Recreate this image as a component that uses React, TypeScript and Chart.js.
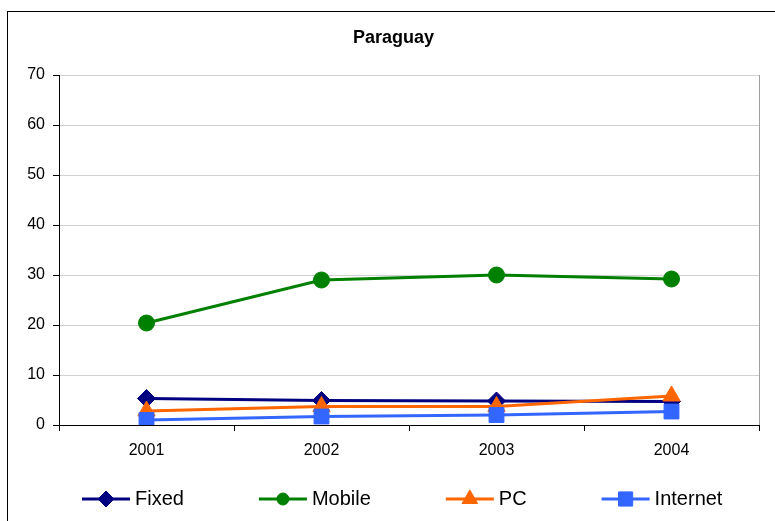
import React, { useEffect, useRef } from 'react';
import { Chart, registerables } from 'chart.js';
import { drawPoint } from 'chart.js/helpers';

Chart.register(...registerables);

const TITLE = 'Paraguay';
const YEARS = ['2001', '2002', '2003', '2004'];
const FIXED = [5.3, 4.9, 4.8, 4.7];
const MOBILE = [20.4, 29.0, 30.0, 29.2];
const PC = [2.8, 3.7, 3.7, 5.8];
const INTERNET = [1.0, 1.7, 2.0, 2.7];
const Y_MIN = 0;
const Y_MAX = 70;
const Y_STEP = 10;

const FONT = 'Arial, "Liberation Sans", sans-serif';

const framePlugin = {
  id: 'frame',
  beforeDraw(chart: any) {
    const ctx = chart.ctx;
    ctx.save();
    ctx.fillStyle = '#ffffff';
    ctx.fillRect(0, 0, chart.width, chart.height);
    ctx.strokeStyle = '#000000';
    ctx.lineWidth = 1;
    ctx.strokeRect(7.5, 11.5, chart.width + 20, chart.height + 20);
    ctx.fillStyle = '#000000';
    ctx.font = `bold 18px ${FONT}`;
    ctx.textAlign = 'center';
    ctx.textBaseline = 'alphabetic';
    ctx.fillText(TITLE, 393.5, 43);
    ctx.restore();
  },
  beforeDatasetsDraw(chart: any) {
    const { ctx, chartArea } = chart;
    ctx.save();
    ctx.strokeStyle = '#a0a0a0';
    ctx.lineWidth = 1;
    ctx.beginPath();
    ctx.moveTo(Math.round(chartArea.right) + 0.5, chartArea.top);
    ctx.lineTo(Math.round(chartArea.right) + 0.5, chartArea.bottom);
    ctx.stroke();
    ctx.restore();
  },
  afterDraw(chart: any) {
    const ctx = chart.ctx;
    ctx.save();
    ctx.font = `20px ${FONT}`;
    ctx.textBaseline = 'middle';
    ctx.textAlign = 'left';
    let x = 82;
    const y = 499;
    const legendRadius: Record<string, number> = { rectRot: 8, circle: 6, triangle: 9, rect: 10 };
    chart.data.datasets.forEach((ds: any) => {
      ctx.strokeStyle = ds.borderColor;
      ctx.lineWidth = 3;
      ctx.beginPath();
      ctx.moveTo(x, y);
      ctx.lineTo(x + 48, y);
      ctx.stroke();
      ctx.fillStyle = ds.borderColor;
      ctx.strokeStyle = ds.borderColor;
      ctx.lineWidth = 1;
      drawPoint(ctx, { pointStyle: ds.pointStyle, rotation: 0, radius: legendRadius[ds.pointStyle], borderWidth: 1 }, x + 24, y);
      ctx.fillStyle = '#000000';
      ctx.fillText(ds.label, x + 53, y);
      const w = ctx.measureText(ds.label).width;
      x = x + 53 + w + 75;
    });
    ctx.restore();
  },
};

export default function App() {
  const ref = useRef<HTMLCanvasElement | null>(null);
  useEffect(() => {
    if (!ref.current) return;
    const mk = (label: string, data: number[], color: string, style: string, r: number, order: number) => ({
      label,
      data,
      borderColor: color,
      backgroundColor: color,
      pointBackgroundColor: color,
      pointBorderColor: color,
      pointBorderWidth: 1,
      borderWidth: 3,
      pointStyle: style,
      pointRadius: r,
      tension: 0,
      order,
    });
    const chart = new Chart(ref.current, {
      type: 'line',
      data: {
        labels: YEARS,
        datasets: [
          mk('Fixed', FIXED, '#000080', 'rectRot', 9, 3),
          mk('Mobile', MOBILE, '#008000', 'circle', 8, 2),
          mk('PC', PC, '#FF6600', 'triangle', 10, 1),
          mk('Internet', INTERNET, '#3366FF', 'rect', 10.5, 0),
        ] as any,
      },
      options: {
        responsive: false,
        animation: false,
        devicePixelRatio: 1,
        layout: { padding: { top: 75, right: 16, left: 0, bottom: 0 } },
        plugins: {
          legend: { display: false },
          title: { display: false },
          tooltip: { enabled: false },
        },
        scales: {
          x: {
            offset: true,
            afterFit: (s: any) => { s.height = 96; },
            grid: {
              offset: true,
              drawOnChartArea: false,
              color: '#000000',
              tickLength: 6,
            },
            border: { color: '#000000', width: 1 },
            ticks: { color: '#000000', font: { family: FONT, size: 16 }, padding: 10, maxRotation: 0 },
          },
          y: {
            min: Y_MIN,
            max: Y_MAX,
            afterFit: (s: any) => { s.width = 59; },
            grid: { color: '#d0d0d0', tickColor: '#000000', tickLength: 6 },
            border: { color: '#000000', width: 1 },
            ticks: { stepSize: Y_STEP, color: '#000000', font: { family: FONT, size: 16 }, padding: 8 },
          },
        },
      } as any,
      plugins: [framePlugin],
    });
    return () => chart.destroy();
  }, []);
  return (
    <div style={{ position: 'fixed', left: 0, top: 0, width: 775, height: 521, background: '#fff' }}>
      <canvas ref={ref} width={775} height={521} style={{ display: 'block' }} />
    </div>
  );
}
